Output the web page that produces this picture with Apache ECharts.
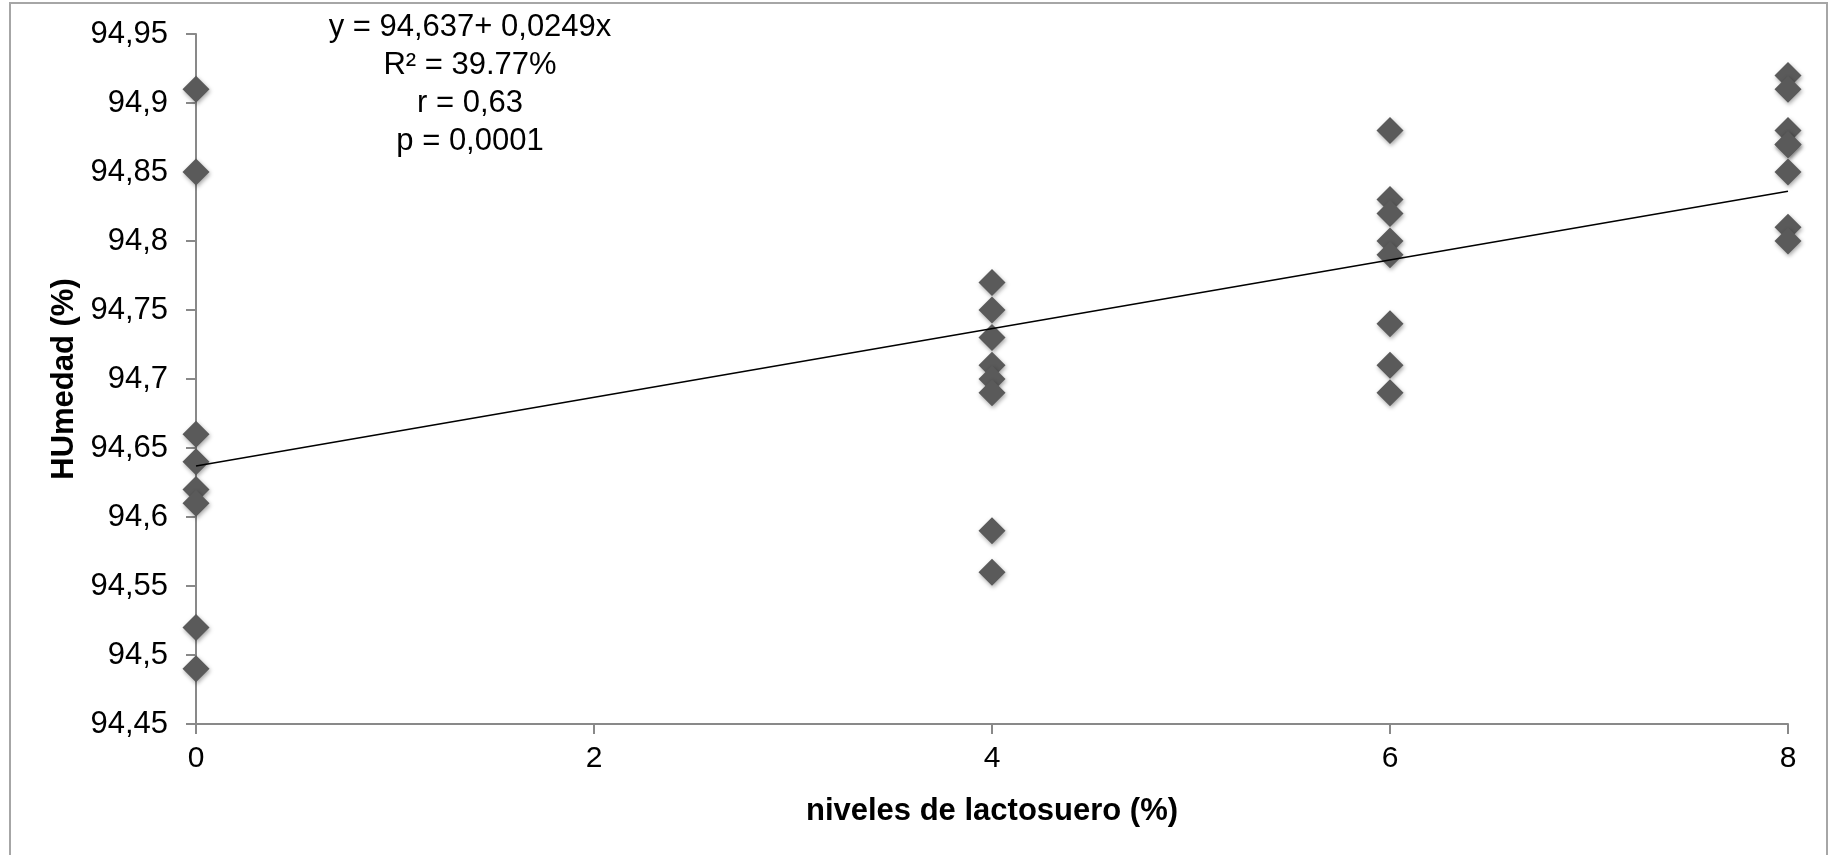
<!DOCTYPE html>
<html>
<head>
<meta charset="utf-8">
<script src="https://cdn.jsdelivr.net/npm/echarts@6/dist/echarts.min.js"></script>
<style>
html,body{margin:0;padding:0;background:#fff;}
#chart{width:1833px;height:855px;}
</style>
</head>
<body>
<div id="chart"></div>
<script>
// ---- data ----
var xLevels = [0, 4, 6, 8];
var humedad0 = [94.91, 94.85, 94.66, 94.64, 94.62, 94.61, 94.52, 94.49];
var humedad4 = [94.77, 94.75, 94.73, 94.71, 94.70, 94.69, 94.59, 94.56];
var humedad6 = [94.88, 94.83, 94.82, 94.80, 94.79, 94.74, 94.71, 94.69];
var humedad8 = [94.92, 94.91, 94.88, 94.87, 94.87, 94.85, 94.81, 94.80];
var trendX = [0, 8];
var trendY = [94.637, 94.836];
var annotationLines = ['y = 94,637+ 0,0249x', 'R² = 39.77%', 'r = 0,63', 'p = 0,0001'];
var xTitle = 'niveles de lactosuero (%)';
var yTitle = 'HUmedad (%)';

var groups = [humedad0, humedad4, humedad6, humedad8];
var points = [];
groups.forEach(function (g, i) {
  g.forEach(function (v) { points.push([xLevels[i], v]); });
});
var trend = trendX.map(function (x, i) { return [x, trendY[i]]; });

var FONT = '"Liberation Sans", Arial, sans-serif';
var axisGray = '#898989';

var chart = echarts.init(document.getElementById('chart'), null, {renderer: 'canvas'});
chart.setOption({
  animation: false,
  backgroundColor: '#ffffff',
  grid: {left: 196, right: 45, top: 34, bottom: 131, containLabel: false, outerBoundsMode: 'none'},
  xAxis: {
    type: 'value', min: 0, max: 8, interval: 2,
    name: xTitle, nameLocation: 'middle', nameGap: 72,
    nameTextStyle: {fontFamily: FONT, fontSize: 31, fontWeight: 'bold', color: '#000'},
    axisLine: {show: true, lineStyle: {color: axisGray, width: 2}},
    axisTick: {show: true, inside: false, length: 10, lineStyle: {color: axisGray, width: 2}},
    axisLabel: {fontFamily: FONT, fontSize: 30, color: '#000', margin: 20},
    splitLine: {show: false}
  },
  yAxis: {
    type: 'value', min: 94.45, max: 94.95, interval: 0.05,
    name: yTitle, nameLocation: 'middle', nameGap: 102, nameRotate: 90,
    nameTextStyle: {fontFamily: FONT, fontSize: 31, fontWeight: 'bold', color: '#000'},
    axisLine: {show: true, lineStyle: {color: axisGray, width: 2}},
    axisTick: {show: true, inside: false, length: 10, lineStyle: {color: axisGray, width: 2}},
    axisLabel: {
      fontFamily: FONT, fontSize: 31, color: '#000', margin: 28,
      formatter: function (v) { return String(+(+v).toFixed(2)).replace('.', ','); }
    },
    splitLine: {show: false}
  },
  graphic: [
    {
      type: 'rect', silent: true, z: -10,
      shape: {x: 10, y: 3, width: 1817, height: 870},
      style: {fill: 'none', stroke: '#a6a6a6', lineWidth: 2}
    },
    {
      type: 'text', silent: true,
      x: 470, y: 8,
      style: {
        text: annotationLines.join('\n'),
        fontFamily: FONT, fontSize: 31, lineHeight: 38,
        fill: '#000', align: 'center', verticalAlign: 'top'
      }
    }
  ],
  series: [
    {
      type: 'scatter', data: points, symbol: 'diamond', symbolSize: 27, z: 2,
      itemStyle: {
        color: '#5a5a5a', opacity: 1,
        shadowBlur: 4, shadowColor: 'rgba(0,0,0,0.35)', shadowOffsetX: 1, shadowOffsetY: 2
      }
    },
    {
      type: 'line', data: trend, symbol: 'none', z: 5,
      lineStyle: {color: '#000', width: 1.6}
    }
  ]
});
</script>
</body>
</html>
